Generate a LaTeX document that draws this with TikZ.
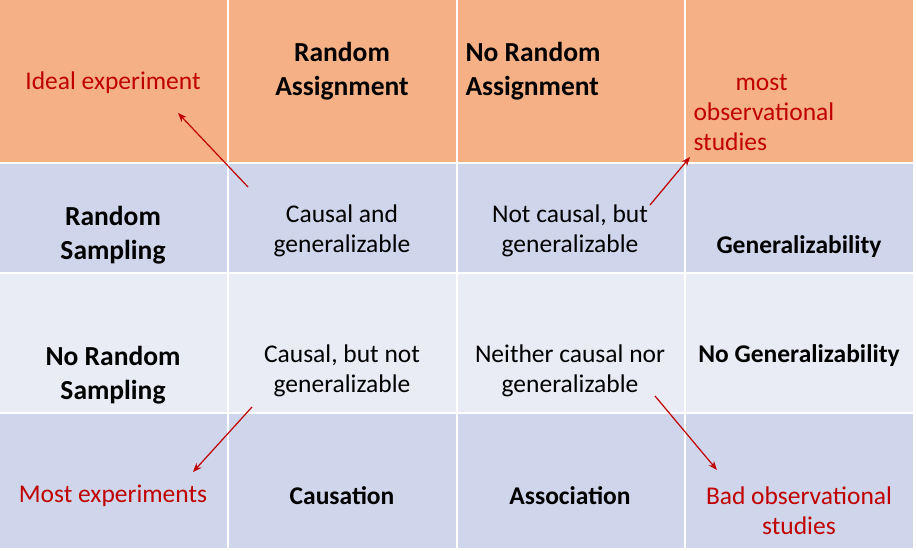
\documentclass[tikz,border=0pt]{standalone}
\usepackage{fontspec}
\setmainfont{Carlito}
\definecolor{hdr}{HTML}{F5B185}
\definecolor{rowA}{HTML}{CFD5EA}
\definecolor{rowB}{HTML}{E9EBF5}
\definecolor{redt}{HTML}{C00000}
\usetikzlibrary{arrows.meta}
\begin{document}
\begin{tikzpicture}[x=1pt,y=-1pt,
  cell/.style={draw=white,line width=2pt},
  b/.style={font=\fontsize{27.5}{34}\selectfont\bfseries,align=center},
  bs/.style={font=\fontsize{25.5}{30}\selectfont\bfseries,align=center},
  t/.style={font=\fontsize{25.5}{30}\selectfont,align=center},
  rt/.style={font=\fontsize{25.5}{30}\selectfont,text=redt,align=center},
  arr/.style={-{Stealth[length=9pt,width=7pt]},draw=redt,line width=1.2pt}]
\useasboundingbox (0,0) rectangle (916,550);
\fill[hdr] (0,0) rectangle (913,163);
\fill[rowA] (0,163) rectangle (913,273);
\fill[rowB] (0,273) rectangle (913,413);
\fill[rowA] (0,413) rectangle (913,548);
\foreach \x in {228,457,685} \draw[cell] (\x,0) -- (\x,548);
\foreach \y in {163,273,413} \draw[cell] (0,\y) -- (913,\y);
\node[rt] (ideal) at (113,83) {Ideal experiment};
\node[b] (ra) at (342,71) {Random\\Assignment};
\node[b,align=left,anchor=west] (nra) at (462,71) {No Random\\Assignment};
\node[rt,align=left,anchor=west] (most) at (690,113) {\hspace*{42pt}most\\observational\\studies};
\node[b] (rs) at (113,235) {Random\\Sampling};
\node[t] (c1) at (342,231) {Causal and\\generalizable};
\node[t] (c2) at (570,231) {Not causal, but\\generalizable};
\node[bs] (gen) at (799,247) {Generalizability};
\node[b] (nrs) at (113,375) {No Random\\Sampling};
\node[t] (c3) at (342,371) {Causal, but not\\generalizable};
\node[t] (c4) at (570,371) {Neither causal nor\\generalizable};
\node[bs] (ngen) at (799,356) {No Generalizability};
\node[rt] (mexp) at (113,496) {Most experiments};
\node[bs] (caus) at (342,496) {Causation};
\node[bs] (assoc) at (570,496) {Association};
\node[rt] (bad) at (799,511) {Bad observational\\studies};
\coordinate (a1s) at (248,187); \coordinate (a1e) at (178,113);
\coordinate (a2s) at (650,205); \coordinate (a2e) at (690,157);
\coordinate (a3s) at (252,407); \coordinate (a3e) at (193,472);
\coordinate (a4s) at (655,396); \coordinate (a4e) at (717,470);
\draw[arr] (a1s) -- (a1e);
\draw[arr] (a2s) -- (a2e);
\draw[arr] (a3s) -- (a3e);
\draw[arr] (a4s) -- (a4e);
\end{tikzpicture}
\end{document}
